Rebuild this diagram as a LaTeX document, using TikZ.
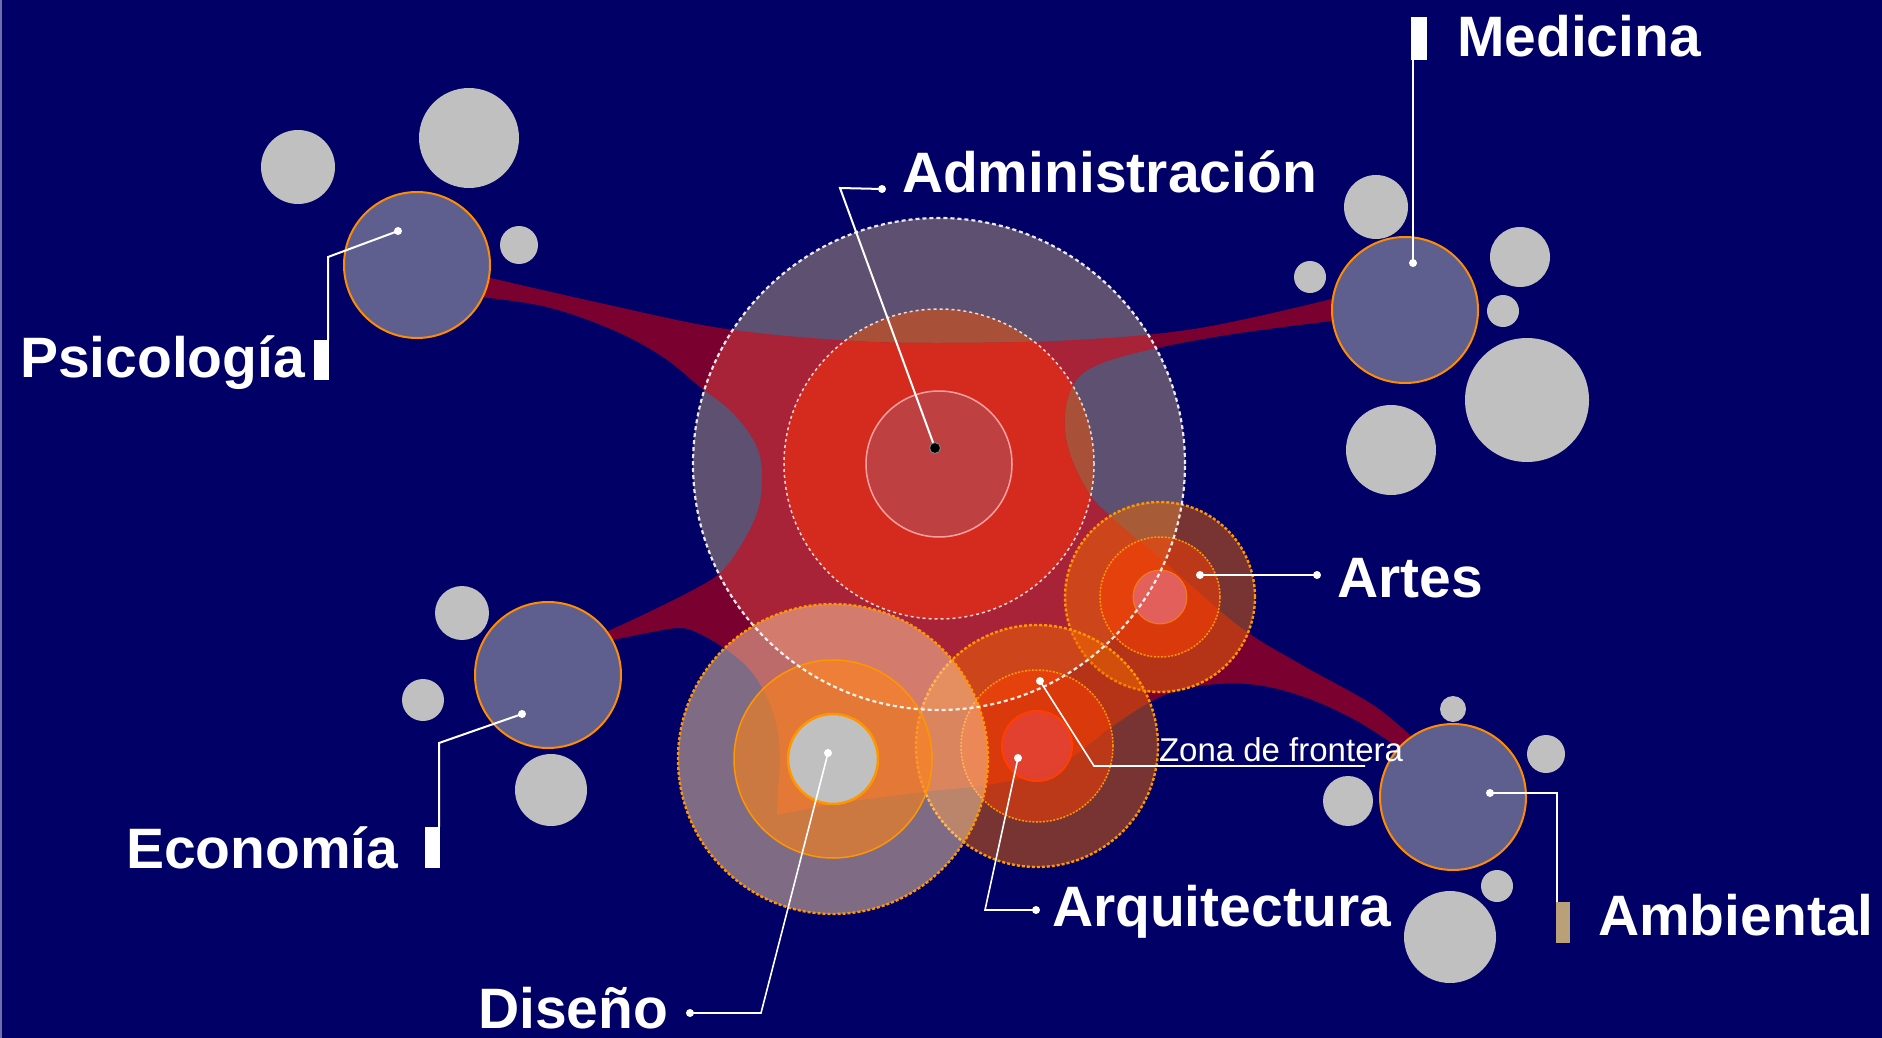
\documentclass[tikz,border=0pt]{standalone}
\usepackage{fontspec}
\setmainfont{Liberation Sans}
\definecolor{navy}{RGB}{0,0,102}
\definecolor{bandred}{RGB}{122,0,48}
\definecolor{admpurple}{RGB}{94,80,112}
\definecolor{admbrown}{RGB}{168,80,56}
\definecolor{admband}{RGB}{168,34,56}
\definecolor{admred}{RGB}{213,42,30}
\definecolor{admcore}{RGB}{190,64,64}
\definecolor{corering}{RGB}{255,160,160}
\definecolor{satfill}{RGB}{95,95,143}
\definecolor{satline}{RGB}{255,140,0}
\definecolor{bubgray}{RGB}{192,192,192}
\definecolor{ringorange}{RGB}{255,150,0}
\definecolor{outerfill}{RGB}{240,105,0}
\definecolor{midfill}{RGB}{255,62,0}
\definecolor{corepink}{RGB}{228,100,100}
\definecolor{arqcore}{RGB}{226,66,50}
\definecolor{disouter}{RGB}{255,215,165}
\definecolor{dismid}{RGB}{255,130,20}
\definecolor{tanbar}{RGB}{185,160,120}
\definecolor{edgeline}{RGB}{110,110,170}
\tikzset{
  lbl/.style={text=white, font=\fontsize{57}{60}\selectfont\bfseries, anchor=base west, inner sep=0pt, outer sep=0pt},
  smalllbl/.style={text=white, font=\fontsize{33}{36}\selectfont, anchor=base west, inner sep=0pt, outer sep=0pt},
  leader/.style={draw=white, line width=2pt},
  thinleader/.style={draw=white, line width=1.6pt},
  bub/.style={fill=bubgray},
  sat/.style={fill=satfill, draw=satline, line width=2pt},
  wbar/.style={fill=white, draw=none, rectangle, inner sep=0pt, outer sep=0pt},
  outerring/.style={fill=outerfill, fill opacity=0.5, draw=ringorange, line width=2.4pt, dash pattern=on 3pt off 2pt},
  midring/.style={fill=midfill, fill opacity=0.5, draw=ringorange, line width=1.5pt, dash pattern=on 2pt off 1.5pt},
  admouterline/.style={draw=white, line width=2.2pt, dash pattern=on 4pt off 3pt, draw opacity=0.9},
  adminnerline/.style={draw=white, line width=1.5pt, dash pattern=on 3pt off 3pt, draw opacity=0.8}
}
\begin{document}
\begin{tikzpicture}[x=1pt,y=-1pt]
\useasboundingbox (0,0) rectangle (1882,1038);
\fill[navy] (0,0) rectangle (1882,1038);
\draw[edgeline, line width=2pt] (1,0) -- (1,1038);

% centres
\coordinate (adm) at (939,464);
\coordinate (art) at (1160,597);
\coordinate (arq) at (1037,746);
\coordinate (dis) at (833,759);
\coordinate (psi) at (417,265);
\coordinate (med) at (1405,310);
\coordinate (eco) at (548,675);
\coordinate (amb) at (1453,797);

% grey bubbles
\fill[bub] (298,167) circle[radius=37pt];
\fill[bub] (469,138) circle[radius=50pt];
\fill[bub] (519,245) circle[radius=19pt];
\fill[bub] (1376,207) circle[radius=32pt];
\fill[bub] (1310,277) circle[radius=16pt];
\fill[bub] (1520,257) circle[radius=30pt];
\fill[bub] (1503,311) circle[radius=16pt];
\fill[bub] (1527,400) circle[radius=62pt];
\fill[bub] (1391,450) circle[radius=45pt];
\fill[bub] (462,613) circle[radius=27pt];
\fill[bub] (423,700) circle[radius=21pt];
\fill[bub] (551,790) circle[radius=36pt];
\fill[bub] (1453,709) circle[radius=13pt];
\fill[bub] (1546,754) circle[radius=19pt];
\fill[bub] (1348,801) circle[radius=25pt];
\fill[bub] (1497,886) circle[radius=16pt];
\fill[bub] (1450,937) circle[radius=46pt];

% the band
\def\bandpath{plot[smooth,tension=0.6] coordinates {(482,276) (600,303) (720,328) (838,340) (937,343) (1075,340) (1200,328) (1340,297)}
 -- plot[smooth,tension=0.6] coordinates {(1340,320) (1240,333) (1157,348) (1100,364) (1075,382) (1065,412) (1068,448) (1085,487) (1107,513) (1170,567) (1240,627) (1300,664) (1373,705) (1415,740)}
 -- plot[smooth,tension=0.6] coordinates {(1405,752) (1357,721) (1307,698) (1257,685) (1207,685) (1160,697) (1110,728) (1072,757) (1030,776) (980,786) (923,792) (840,803) (777,815)}
 -- plot[smooth,tension=0.6] coordinates {(777,815) (778,790) (780,760) (777,727) (767,697) (750,670) (727,650) (700,634) (680,628) (647,633) (608,641)}
 -- plot[smooth,tension=0.6] coordinates {(604,633) (647,613) (693,590) (720,573) (740,547) (757,513) (762,480) (757,447) (733,413) (700,387) (663,357) (613,330) (547,307) (480,297)}
 -- cycle}
\fill[bandred] \bandpath;

% Administracion
\fill[admpurple] (adm) circle[radius=246pt];
\fill[admbrown] (adm) circle[radius=155pt];
\begin{scope}
  \clip \bandpath;
  \fill[admband] (adm) circle[radius=246pt];
  \fill[admred] (adm) circle[radius=155pt];
\end{scope}
\fill[admcore] (adm) circle[radius=73pt];
\draw[corering, line width=1.5pt] (adm) circle[radius=73pt];

% Artes
\path[outerring] (art) circle[radius=95pt];
\path[midring] (art) circle[radius=60pt];
\fill[corepink, fill opacity=0.9] (art) circle[radius=27pt];
\draw[ringorange, line width=1pt, draw opacity=0.6] (art) circle[radius=27pt];

% Arquitectura
\path[outerring] (arq) circle[radius=121pt];
\path[midring] (arq) circle[radius=76pt];
\fill[arqcore, fill opacity=0.9] (arq) circle[radius=35pt];
\draw[midfill, line width=2pt] (arq) circle[radius=35pt];

% Diseno
\path[fill=disouter, fill opacity=0.5, draw=ringorange, line width=2.4pt, dash pattern=on 3pt off 2pt] (dis) circle[radius=155pt];
\path[fill=dismid, fill opacity=0.6, draw=ringorange, line width=1.5pt] (dis) circle[radius=99pt];
\fill[bubgray] (dis) circle[radius=45pt];
\draw[ringorange, line width=2.5pt] (dis) circle[radius=45pt];

% satellites
\path[sat] (psi) circle[radius=73pt];
\path[sat] (med) circle[radius=73pt];
\path[sat] (eco) circle[radius=73pt];
\path[sat] (amb) circle[radius=73pt];

% Administracion outlines on top
\path[admouterline] (adm) circle[radius=246pt];
\path[adminnerline] (adm) circle[radius=155pt];

% leader points
\coordinate (psidot) at (398,231);
\coordinate (psicorner) at (328,257);
\coordinate (meddot) at (1413,263);
\coordinate (ecodot) at (522,714);
\coordinate (ecocorner) at (439,743);
\coordinate (ambdot) at (1490,793);
\coordinate (ambcorner) at (1557,793);
\coordinate (admdot) at (882,189);
\coordinate (admcorner) at (840,188);
\coordinate (admblack) at (935,448);
\coordinate (artdot) at (1200,575);
\coordinate (artend) at (1317,575);
\coordinate (arqdot) at (1018,758);
\coordinate (arqcorner) at (985,910);
\coordinate (arqend) at (1036,910);
\coordinate (disdot) at (828,753);
\coordinate (discorner) at (761,1013);
\coordinate (disend) at (690,1013);
\coordinate (zondot) at (1040,681);
\coordinate (zoncorner) at (1094,766);
\coordinate (zonend) at (1365,766);

% bars
\node[wbar, minimum width=15pt, minimum height=40pt] (psibar) at (321.5,360) {};
\node[wbar, minimum width=16pt, minimum height=43pt] (medbar) at (1419,38.5) {};
\node[wbar, minimum width=15pt, minimum height=41pt] (ecobar) at (432.5,847.5) {};
\node[wbar, fill=tanbar, minimum width=14pt, minimum height=41pt] (ambbar) at (1563,922.5) {};

% labels
\node[lbl] (admlbl) at (902,192) {Administración};
\node[lbl] (medlbl) at (1457,57) {Medicina};
\node[lbl] (psilbl) at (20,377) {Psicología};
\node[lbl] (ecolbl) at (126,868) {Economía};
\node[lbl] (amblbl) at (1598,935) {Ambiental};
\node[lbl] (artlbl) at (1337,597) {Artes};
\node[lbl] (arqlbl) at (1052,926) {Arquitectura};
\node[lbl] (dislbl) at (478,1028) {Diseño};
\node[smalllbl] (zonlbl) at (1159,761) {Zona de frontera};

% leaders
\draw[leader] (psidot) -- (psicorner) -- (psicorner |- psibar.north);
\draw[leader] (medbar.south west) ++(2,0) -- (meddot);
\draw[leader] (ecodot) -- (ecocorner) -- (ecocorner |- ecobar.north);
\draw[leader] (ambdot) -- (ambcorner) -- (ambcorner |- ambbar.north);
\draw[leader] (admdot) -- (admcorner) -- (admblack);
\draw[leader] (artdot) -- (artend);
\draw[thinleader] (arqdot) -- (arqcorner) -- (arqend);
\draw[thinleader] (disdot) -- (discorner) -- (disend);
\draw[thinleader] (zondot) -- (zoncorner) -- (zonend);

% dots
\foreach \p in {psidot,meddot,ecodot,ambdot,admdot,artdot,artend,arqdot,arqend,disdot,disend,zondot}
  \fill[white] (\p) circle[radius=4pt];
\fill[black] (admblack) circle[radius=5.5pt];
\draw[gray, line width=1pt] (admblack) circle[radius=5.5pt];
\end{tikzpicture}
\end{document}
